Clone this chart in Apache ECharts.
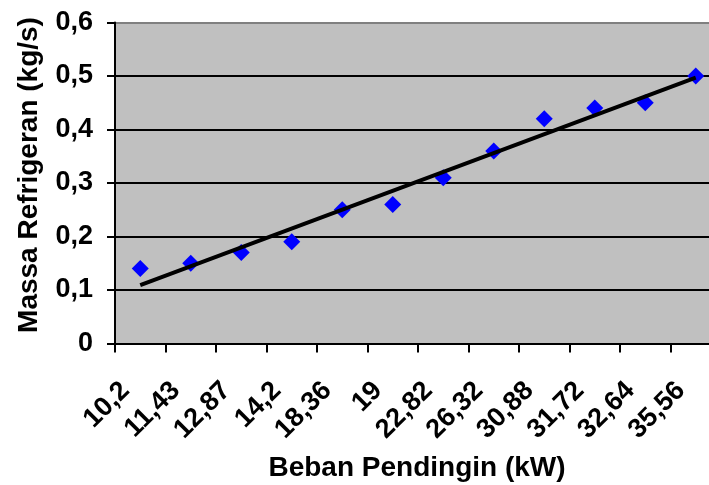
<!DOCTYPE html>
<html>
<head>
<meta charset="utf-8">
<script src="https://cdn.jsdelivr.net/npm/echarts@6/dist/echarts.min.js"></script>
<style>html,body{margin:0;padding:0;background:#fff}#c{width:709px;height:485px}</style>
</head>
<body>
<div id="c"></div>
<script>
const categories = ['10,2','11,43','12,87','14,2','18,36','19','22,82','26,32','30,88','31,72','32,64','35,56'];
const massValues = [0.14,0.15,0.17,0.19,0.25,0.26,0.31,0.36,0.42,0.44,0.45,0.50];
const trendStartEnd = [0.109, 0.497];
const yTicks = [0,0.1,0.2,0.3,0.4,0.5,0.6];
const xTitle = 'Beban Pendingin (kW)';
const yTitle = 'Massa Refrigeran (kg/s)';

const chart = echarts.init(document.getElementById('c'));
const FONT = '"Liberation Sans", Arial, sans-serif';
chart.setOption({
  animation: false,
  grid: { left: 115, top: 22.5, width: 606, bottom: 141.5, show: true, backgroundColor: '#C0C0C0', borderWidth: 0, outerBoundsMode: 'none', containLabel: false },
  graphic: [
    { type: 'text', x: 417, y: 468, style: { text: xTitle, font: 'bold 28px ' + FONT, fill: '#000', textAlign: 'center', textVerticalAlign: 'middle' } },
    { type: 'text', x: 29, y: 175, rotation: Math.PI / 2, style: { text: yTitle, font: 'bold 28px ' + FONT, fill: '#000', textAlign: 'center', textVerticalAlign: 'middle' } }
  ],
  xAxis: {
    type: 'category', data: categories, boundaryGap: true,
    axisLine: { lineStyle: { color: '#000', width: 2 } },
    axisTick: { show: true, length: 9, lineStyle: { color: '#000', width: 2 } },
    axisLabel: { rotate: 45, interval: 0, margin: 28, padding: [0, 21, 0, 0], fontFamily: FONT, fontWeight: 'bold', fontSize: 27, color: '#000' },
    splitLine: { show: false }
  },
  yAxis: {
    type: 'value', min: yTicks[0], max: yTicks[yTicks.length-1], interval: 0.1,
    axisLine: { show: true, lineStyle: { color: '#000', width: 2 } },
    axisTick: { show: true, length: 8, lineStyle: { color: '#000', width: 2 } },
    axisLabel: { margin: 22, fontFamily: FONT, fontWeight: 'bold', fontSize: 27, color: '#000',
      formatter: v => String(Math.round(v*10)/10).replace('.', ',') },
    splitLine: { show: true, lineStyle: { color: ['#000','#000','#000','#000','#000','#000','#808080'], width: 2 } }
  },
  series: [
    { type: 'scatter', data: massValues, symbol: 'diamond', symbolSize: 17, itemStyle: { color: '#0000FF', opacity: 1 }, z: 3 },
    { type: 'line', data: [[categories[0], trendStartEnd[0]], [categories[categories.length-1], trendStartEnd[1]]],
      symbol: 'none', lineStyle: { color: '#000', width: 4 }, z: 4 }
  ]
});
</script>
</body>
</html>
